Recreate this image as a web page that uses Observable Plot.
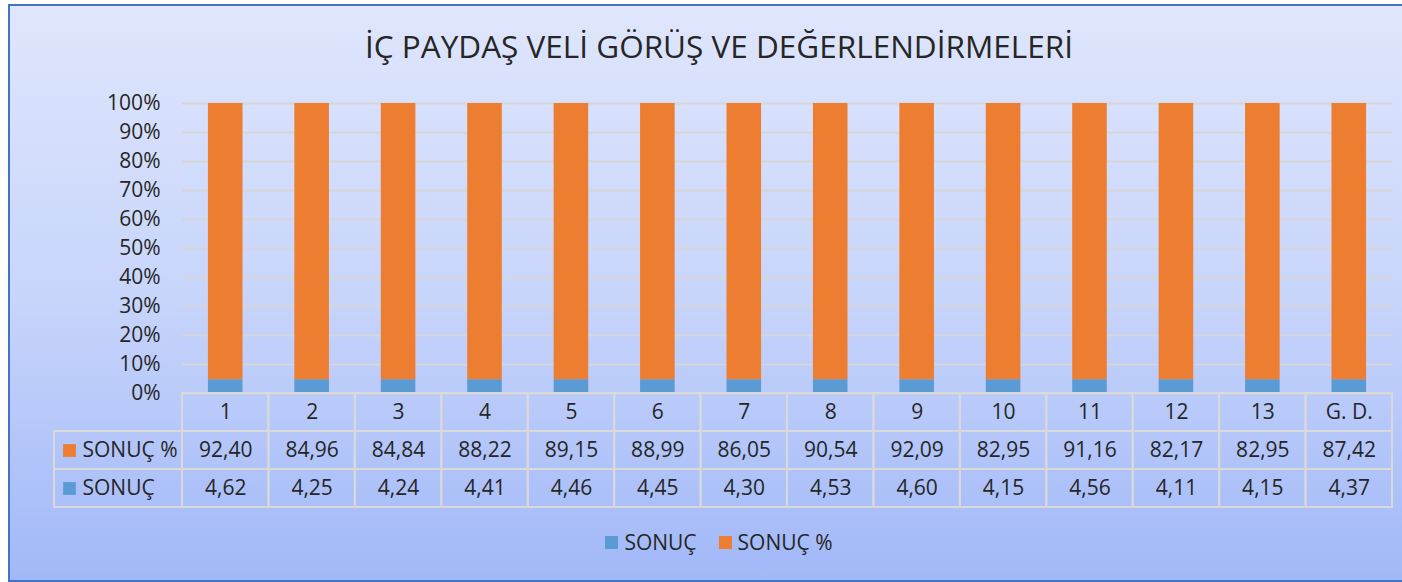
<!DOCTYPE html>
<html>
<head>
<meta charset="utf-8">
<script src="https://cdn.jsdelivr.net/npm/d3@7"></script>
<script src="https://cdn.jsdelivr.net/npm/@observablehq/plot@0.6"></script>
<style>
  html, body { margin: 0; padding: 0; background: #ffffff; }
  #wrap { position: relative; width: 1402px; height: 582px; overflow: hidden; font-family: "Open Sans", sans-serif; color: #262626; }
  #panel { position: absolute; left: 8px; top: 4px; width: 1430px; height: 574px;
    border: 2px solid #4472c4; background: linear-gradient(to bottom, #dfe6fc 0%, #c8d5fb 50%, #a1b8f8 100%); }
  #title { position: absolute; left: 8px; width: 1422px; top: 25px; text-align: center; font-size: 31.5px; line-height: 42px; }
  #chart { position: absolute; left: 0; top: 90px; }
  #table { position: absolute; left: 0; top: 390px; }
  #legend { position: absolute; left: 8px; width: 1422px; top: 528px; display: flex; justify-content: center; font-size: 21px; }
  #legend .item { display: flex; align-items: center; margin: 0 11px; }
  #legend .sw { width: 13px; height: 13px; margin-right: 6px; }
</style>
</head>
<body>
<div id="wrap">
  <div id="panel"></div>
  <div id="title"></div>
  <div id="chart"></div>
  <div id="table"></div>
  <div id="legend"></div>
</div>
<script>
// ---- data ----
const titleText = "İÇ PAYDAŞ VELİ GÖRÜŞ VE DEĞERLENDİRMELERİ";
const categories = ["1","2","3","4","5","6","7","8","9","10","11","12","13","G. D."];
const sonucYuzde = [92.40,84.96,84.84,88.22,89.15,88.99,86.05,90.54,92.09,82.95,91.16,82.17,82.95,87.42];
const sonuc = [4.62,4.25,4.24,4.41,4.46,4.45,4.30,4.53,4.60,4.15,4.56,4.11,4.15,4.37];
const seriesNames = ["SONUÇ", "SONUÇ %"];
const seriesColors = ["#5b9bd5", "#ed7d31"];
const yTicks = [0,0.1,0.2,0.3,0.4,0.5,0.6,0.7,0.8,0.9,1];
const tableRows = ["header", "SONUÇ %", "SONUÇ"];

// ---- build ----
const fmt = v => d3.format(".2f")(v).replace(".", ",");
const bars = [];
categories.forEach((c, i) => {
  bars.push({cat: c, series: seriesNames[0], value: sonuc[i]});
  bars.push({cat: c, series: seriesNames[1], value: sonucYuzde[i]});
});
const cells = [];
categories.forEach((c, i) => {
  cells.push({cat: c, row: "header", text: c});
  cells.push({cat: c, row: "SONUÇ %", text: fmt(sonucYuzde[i])});
  cells.push({cat: c, row: "SONUÇ", text: fmt(sonuc[i])});
});
const labelRows = [
  {row: "SONUÇ %", series: "SONUÇ %"},
  {row: "SONUÇ", series: "SONUÇ"}
];

document.getElementById("title").textContent = titleText;

const W = 1402, ML = 182, MR = 10;
const textStyle = {fontFamily: "Open Sans", fontSize: "21px", color: "#262626", background: "transparent", overflow: "visible"};

const chart = Plot.plot({
  width: W, height: 310,
  marginLeft: ML, marginRight: MR, marginTop: 13, marginBottom: 7,
  style: textStyle,
  x: {domain: categories, paddingInner: 0.6, paddingOuter: 0.3, round: false, axis: null},
  y: {domain: [0, 1], ticks: yTicks, tickFormat: d3.format(".0%"), tickSize: 0, tickPadding: 22, label: null},
  color: {domain: seriesNames, range: seriesColors},
  marks: [
    Plot.gridY(yTicks, {stroke: "#d6d6d6", strokeOpacity: 1, strokeWidth: 2}),
    Plot.barY(bars, Plot.stackY({offset: "normalize"}, {x: "cat", y: "value", fill: "series"}))
  ]
});
document.getElementById("chart").appendChild(chart);

const table = Plot.plot({
  width: W, height: 120,
  marginLeft: ML, marginRight: MR, marginTop: 3, marginBottom: 3,
  style: textStyle,
  x: {domain: categories, padding: 0, round: false, axis: null},
  y: {domain: tableRows, padding: 0, round: false, axis: null},
  color: {domain: seriesNames, range: seriesColors},
  marks: [
    Plot.cell(cells, {x: "cat", y: "row", fill: "none", stroke: "#d9d9d9", strokeWidth: 2}),
    Plot.cell(labelRows, {x: () => categories[0], y: "row", fill: "none", stroke: "#d9d9d9", strokeWidth: 2, insetLeft: -128, insetRight: (W - ML - MR) / categories.length}),
    Plot.text(cells, {x: "cat", y: "row", text: "text", fill: "#262626", fontSize: 21}),
    Plot.dot(labelRows, {y: "row", frameAnchor: "left", dx: -113, symbol: "square", r: 7.2, fill: "series", stroke: null}),
    Plot.text(labelRows, {y: "row", text: "row", frameAnchor: "left", dx: -100, textAnchor: "start", fill: "#262626", fontSize: 21})
  ]
});
document.getElementById("table").appendChild(table);

// legend from chart color scale
const colorScale = chart.scale("color");
const legend = document.getElementById("legend");
colorScale.domain.forEach((name, i) => {
  const item = document.createElement("div");
  item.className = "item";
  const sw = document.createElement("div");
  sw.className = "sw";
  sw.style.background = colorScale.range[i];
  const t = document.createElement("span");
  t.textContent = name;
  item.appendChild(sw); item.appendChild(t);
  legend.appendChild(item);
});
</script>
</body>
</html>
